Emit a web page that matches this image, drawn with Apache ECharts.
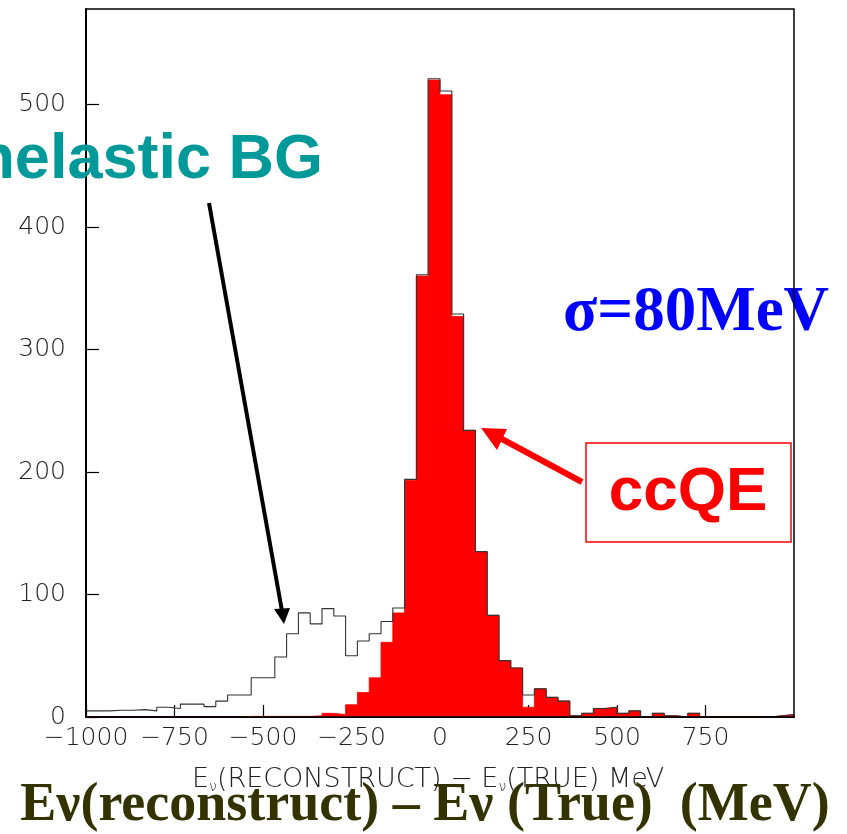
<!DOCTYPE html>
<html>
<head>
<meta charset="utf-8">
<script src="https://cdn.jsdelivr.net/npm/echarts@6/dist/echarts.min.js"></script>
<style>html,body{margin:0;padding:0;background:#fff}#c{width:847px;height:834px}</style>
</head>
<body>
<div id="c"></div>
<script>
// Histogram: 60 bins of 2000/60 MeV from -1000 to 1000
const xMin = -1000, xMax = 1000, nBins = 60;
// ccQE (red filled)
const ccqeCounts = [
  0,0,0,0,0,0,0,0,0,0, 0,0,0,0.5,0.5,0.5,0.5,0.5,0.5,1,
  3,2,10,20,32,61,85,193,360,520, 508,327,234,135,83,46,40,8,23,16,
  13,1,3,7,8,3,5,0,3,1, 0,3,0,0,0,0,0,0,1,2
];
// all events (black outline)
const allCounts = [
  5,5,5.5,5.5,6,5,8,7,10.5,10.5, 8.5,13,18,18,32,32,49,68,85,76,
  88.5,82.5,50,62,68,78,89,194,361,521, 511,329,234,135,83,46,40,18,23,16,
  13,1,3,7,8,3,5,0,3,1, 0,3,0,0,0,0,0,0,1,2
];
const xTicks = [-1000,-750,-500,-250,0,250,500,750];
const yTicks = [0,100,200,300,400,500];

const binW = (xMax - xMin) / nBins;
function stepData(arr){
  const d = arr.map((v,k)=>[xMin + k*binW, v]);
  d.push([xMax, arr[arr.length-1]]);
  return d;
}

const chart = echarts.init(document.getElementById('c'), null, {renderer:'canvas'});
const lblFont = "'DejaVu Sans'";
chart.setOption({
  animation:false,
  backgroundColor:'#fff',
  grid:{left:86,right:53,top:9,bottom:117,show:true,borderColor:'#000',borderWidth:1.5,z:5},
  xAxis:{type:'value',min:xMin,max:xMax,interval:250,
    axisLine:{show:true,onZero:false,lineStyle:{color:'#000',width:2}},
    axisTick:{show:true,inside:true,length:12,lineStyle:{color:'#000',width:1.2}},
    splitLine:{show:false},
    axisLabel:{show:true,showMaxLabel:false,margin:9,color:'#222',fontFamily:lblFont,fontWeight:200,fontSize:25,
      formatter:v=> xTicks.indexOf(v)<0 ? '' : (v<0?'\u2212'+(-v):String(v))}
  },
  yAxis:{type:'value',min:0,max:578,interval:100,
    axisLine:{show:true,onZero:false,lineStyle:{color:'#000',width:2}},
    axisTick:{show:true,inside:true,length:13,lineStyle:{color:'#000',width:1.2}},
    splitLine:{show:false},
    axisLabel:{show:true,showMaxLabel:false,margin:20,color:'#222',fontFamily:lblFont,fontWeight:200,fontSize:25,
      formatter:v=> yTicks.indexOf(v)<0 ? '' : String(v)}
  },
  series:[
    {type:'line',name:'ccQE',step:'end',data:stepData(ccqeCounts),symbol:'none',
      lineStyle:{color:'#ff0000',width:0.8},areaStyle:{color:'#ff0000',opacity:1},z:2},
    {type:'line',name:'all',step:'end',data:stepData(allCounts),symbol:'none',
      lineStyle:{color:'#333',width:1.1},z:3}
  ],
  graphic:[
    {type:'text',z:10,style:{text:'Inelastic BG',x:323,y:161,align:'right',verticalAlign:'middle',
      font:"bold 63px 'Liberation Sans'",fill:'#009999'}},
    {type:'line',z:10,shape:{x1:209,y1:203,x2:282,y2:611},style:{stroke:'#000',lineWidth:4}},
    {type:'polygon',z:10,shape:{points:[[284,624],[274,609],[290,608]]},style:{fill:'#000'}},
    {type:'text',z:1,style:{text:'\u03c3=80MeV',x:563,y:314,align:'left',verticalAlign:'middle',
      font:"bold 63px 'Liberation Serif'",fill:'#0000ff'}},
    {type:'rect',z:10,shape:{x:586,y:443,width:205,height:99},style:{fill:'none',stroke:'#ff0000',lineWidth:1.5}},
    {type:'text',z:10,style:{text:'ccQE',x:688,y:493,align:'center',verticalAlign:'middle',
      font:"bold 62px 'Liberation Sans'",fill:'#ff0000'}},
    {type:'line',z:10,shape:{x1:582,y1:482,x2:500,y2:438},style:{stroke:'#ff0000',lineWidth:6}},
    {type:'polygon',z:10,shape:{points:[[481,428],[507,429],[497,450]]},style:{fill:'#ff0000'}},
    {type:'text',z:10,style:{
      text:'{e|E}{s|\u03bd}{e|(RECONSTRUCT) \u2212 E}{s|\u03bd}{e|(TRUE) MeV}',
      x:192,y:780,align:'left',verticalAlign:'middle',
      rich:{e:{fontFamily:lblFont,fontWeight:200,fontSize:27,fill:'#222',color:'#222'},
            s:{fontFamily:lblFont,fontWeight:200,fontSize:14,fill:'#222',color:'#222',padding:[14,0,0,0]}}}},
    {type:'text',z:11,style:{text:'E\u03bd(reconstruct) \u2013 E\u03bd (True)  (MeV)',x:425,y:806,align:'center',verticalAlign:'middle',
      font:"bold 54px 'Liberation Serif'",fill:'#333300'}}
  ]
});
</script>
</body>
</html>
